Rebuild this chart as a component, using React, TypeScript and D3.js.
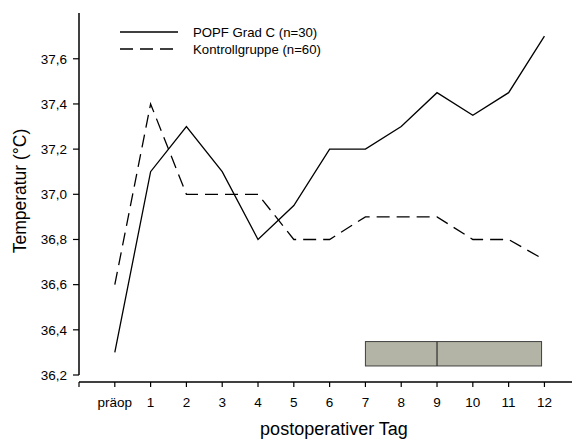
import React from "react";
import * as d3 from "d3";

const categories = ["präop", "1", "2", "3", "4", "5", "6", "7", "8", "9", "10", "11", "12"];
const popfValues = [36.3, 37.1, 37.3, 37.1, 36.8, 36.95, 37.2, 37.2, 37.3, 37.45, 37.35, 37.45, 37.7];
const controlValues = [36.6, 37.4, 37.0, 37.0, 37.0, 36.8, 36.8, 36.9, 36.9, 36.9, 36.8, 36.8, 36.71];
const yTicks = [36.2, 36.4, 36.6, 36.8, 37.0, 37.2, 37.4, 37.6];
const boxStats = { q1: 7, median: 9, q3: 11.92, yLow: 36.24, yHigh: 36.348 };
const legendLabels = ["POPF Grad C (n=30)", "Kontrollgruppe (n=60)"];

export default function App() {
  const W = 577, H = 440;
  const x = d3.scaleLinear().domain([-1, 12.77]).range([79, 572]);
  const y = d3.scaleLinear().domain([36.2, 37.8]).range([375, 13.6]);
  const line = d3
    .line<number>()
    .x((_, i) => x(i))
    .y((d) => y(d));
  const font = "'Liberation Sans', Arial, sans-serif";
  const fmt = (v: number) => v.toFixed(1).replace(".", ",");
  return (
    <svg width={W} height={H} style={{ position: "absolute", left: 0, top: 0, background: "#fff" }} fontFamily={font}>
      {/* y axis */}
      <line x1={79} x2={79} y1={y.range()[1] - 0.5} y2={375} stroke="#000" strokeWidth={1.5} />
      {yTicks.map((t) => (
        <g key={t}>
          <line x1={73} x2={79} y1={y(t)} y2={y(t)} stroke="#000" strokeWidth={1.2} />
          <text x={67} y={y(t)} dy="0.35em" textAnchor="end" fontSize={13.5} fill="#000">
            {fmt(t)}
          </text>
        </g>
      ))}
      {/* x axis */}
      <line x1={x.range()[0]} x2={x.range()[1]} y1={382} y2={382} stroke="#000" strokeWidth={1.5} />
      <line x1={79} x2={79} y1={382} y2={387} stroke="#000" strokeWidth={1.2} />
      {categories.map((c, i) => (
        <g key={c}>
          <line x1={x(i)} x2={x(i)} y1={382} y2={387} stroke="#000" strokeWidth={1.2} />
          <text x={x(i)} y={402} dy="0.35em" textAnchor="middle" fontSize={13.5} fill="#000">
            {c}
          </text>
        </g>
      ))}
      {/* titles */}
      <text x={334} y={435} textAnchor="middle" fontSize={18} fill="#000">
        postoperativer Tag
      </text>
      <text
        transform={`translate(20,191) rotate(-90)`}
        textAnchor="middle"
        dy="0.35em"
        fontSize={17.5}
        fill="#000"
      >
        Temperatur (°C)
      </text>
      {/* box */}
      <rect
        x={x(boxStats.q1)}
        y={y(boxStats.yHigh)}
        width={x(boxStats.q3) - x(boxStats.q1)}
        height={y(boxStats.yLow) - y(boxStats.yHigh)}
        fill="#b4b4a6"
        stroke="#404040"
        strokeWidth={1}
      />
      <line
        x1={x(boxStats.median)}
        x2={x(boxStats.median)}
        y1={y(boxStats.yHigh)}
        y2={y(boxStats.yLow)}
        stroke="#303030"
        strokeWidth={1.2}
      />
      {/* lines */}
      <path d={line(popfValues) || ""} fill="none" stroke="#000" strokeWidth={1.3} />
      <path d={line(controlValues) || ""} fill="none" stroke="#000" strokeWidth={1.3} strokeDasharray="13,7" />
      {/* legend */}
      <line x1={120} x2={178} y1={32} y2={32} stroke="#000" strokeWidth={1.3} />
      <line x1={120} x2={178} y1={49} y2={49} stroke="#000" strokeWidth={1.3} strokeDasharray="13,7" />
      <text x={193} y={32} dy="0.35em" fontSize={13.2} fill="#000">
        {legendLabels[0]}
      </text>
      <text x={193} y={49} dy="0.35em" fontSize={13.2} fill="#000">
        {legendLabels[1]}
      </text>
    </svg>
  );
}
